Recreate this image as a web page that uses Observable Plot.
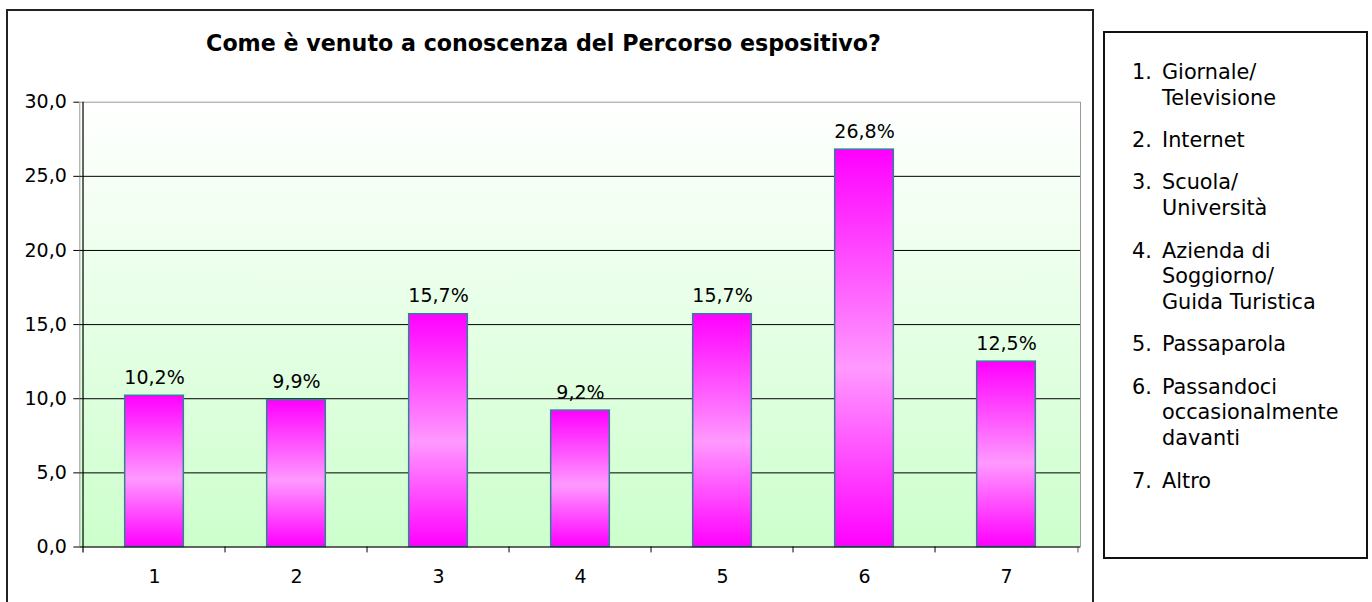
<!DOCTYPE html>
<html>
<head>
<meta charset="utf-8">
<script src="https://cdn.jsdelivr.net/npm/d3@7"></script>
<script src="https://cdn.jsdelivr.net/npm/@observablehq/plot@0.6"></script>
<style>
  html, body { margin: 0; padding: 0; background: #ffffff; width: 1372px; height: 602px; overflow: hidden; font-family: "DejaVu Sans", Verdana, sans-serif; color: #000; }
  #frame { position: absolute; left: 6px; top: 9px; width: 1088px; height: 660px; border: 2px solid #222; box-sizing: border-box; }
  #chart { position: absolute; left: 0; top: 0; }
  #title { position: absolute; left: 0; width: 1087px; top: 30px; line-height: 26px; text-align: center; font-weight: bold; font-size: 22.2px; white-space: nowrap; }
  #legend { position: absolute; left: 1103px; top: 31px; width: 265px; height: 528px; border: 2px solid #111; box-sizing: border-box; padding: 27px 0 0 27px; font-size: 20.8px; line-height: 25.7px; }
  .item { display: flex; margin-bottom: 16.7px; }
  .num { width: 30px; flex: none; }
</style>
</head>
<body>
<div id="frame"></div>
<div id="chart"></div>
<div id="title"></div>
<div id="legend"></div>
<script>
// ---- data ----
const categories = ["1", "2", "3", "4", "5", "6", "7"];
const values = [10.2, 9.9, 15.7, 9.2, 15.7, 26.8, 12.5];
const yTicks = [0, 5, 10, 15, 20, 25, 30];
const legendLabels = [
  ["Giornale/", "Televisione"],
  ["Internet"],
  ["Scuola/", "Università"],
  ["Azienda di", "Soggiorno/", "Guida Turistica"],
  ["Passaparola"],
  ["Passandoci", "occasionalmente", "davanti"],
  ["Altro"]
];
const titleText = "Come è venuto a conoscenza del Percorso espositivo?";

// ---- derived ----
const data = categories.map((c, i) => ({cat: c, value: values[i]}));
const fmt = v => v.toFixed(1).replace(".", ",");

const W = 1372, H = 602;
const mL = 79.3, mR = W - 1080, mT = 101.7, mB = H - 546.5;
const step = (W - mL - mR) / categories.length;
const inset = (step - 59.6) / 2;

const plot = Plot.plot({
  width: W,
  height: H,
  marginLeft: mL,
  marginRight: mR,
  marginTop: mT,
  marginBottom: mB,
  style: {fontFamily: "DejaVu Sans", fontSize: "19px", color: "#000", background: "transparent", overflow: "visible"},
  x: {domain: categories, padding: 0, tickSize: 0, tickPadding: 22, label: null},
  y: {domain: [0, 30], ticks: yTicks, tickFormat: fmt, tickSize: 6, tickPadding: 7, label: null},
  marks: [
    Plot.frame({fill: "url(#bgGrad)", stroke: "#9a9a9a"}),
    Plot.ruleY(yTicks.filter(t => t > 0 && t < 30), {stroke: "#000", strokeWidth: 1}),
    Plot.barY(data, {x: "cat", y: "value", fill: "url(#barGrad)", stroke: "#2f8294", strokeWidth: 1.5, insetLeft: inset, insetRight: inset}),
    Plot.ruleY([0], {stroke: "#000", strokeWidth: 1.2}),
    Plot.ruleX([categories[0]], {dx: -step / 2, y1: -0.4, y2: 30, stroke: "#000", strokeWidth: 1.2}),
    Plot.ruleX(categories.slice(1), {x: d => d, dx: -step / 2, y1: -0.4, y2: 0, stroke: "#000"}),
    Plot.ruleX([categories[categories.length - 1]], {dx: step / 2, y1: -0.4, y2: 0, stroke: "#555"}),
    Plot.text(data, {x: "cat", y: "value", text: d => fmt(d.value) + "%", dy: -18, fontSize: 19, fill: "#000"})
  ]
});

// gradients
const svg = d3.select(plot.tagName.toLowerCase() === "svg" ? plot : plot.querySelector("svg"));
const defs = svg.insert("defs", ":first-child");
const bg = defs.append("linearGradient").attr("id", "bgGrad").attr("x1", 0).attr("y1", 0).attr("x2", 0).attr("y2", 1);
bg.append("stop").attr("offset", 0).attr("stop-color", "#ffffff");
bg.append("stop").attr("offset", 1).attr("stop-color", "#ccffcc");
const bar = defs.append("linearGradient").attr("id", "barGrad").attr("x1", 0).attr("y1", 0).attr("x2", 0).attr("y2", 1);
bar.append("stop").attr("offset", 0).attr("stop-color", "#ff00ff");
bar.append("stop").attr("offset", 0.55).attr("stop-color", "#ff99ff");
bar.append("stop").attr("offset", 1).attr("stop-color", "#ff00ff");

document.getElementById("chart").appendChild(plot);
document.getElementById("title").textContent = titleText;

const legend = document.getElementById("legend");
legendLabels.forEach((lines, i) => {
  const item = document.createElement("div");
  item.className = "item";
  const num = document.createElement("span");
  num.className = "num";
  num.textContent = (i + 1) + ".";
  const txt = document.createElement("span");
  txt.innerHTML = lines.map(l => l.replace(/&/g, "&amp;").replace(/</g, "&lt;")).join("<br>");
  item.appendChild(num);
  item.appendChild(txt);
  legend.appendChild(item);
});
</script>
</body>
</html>
